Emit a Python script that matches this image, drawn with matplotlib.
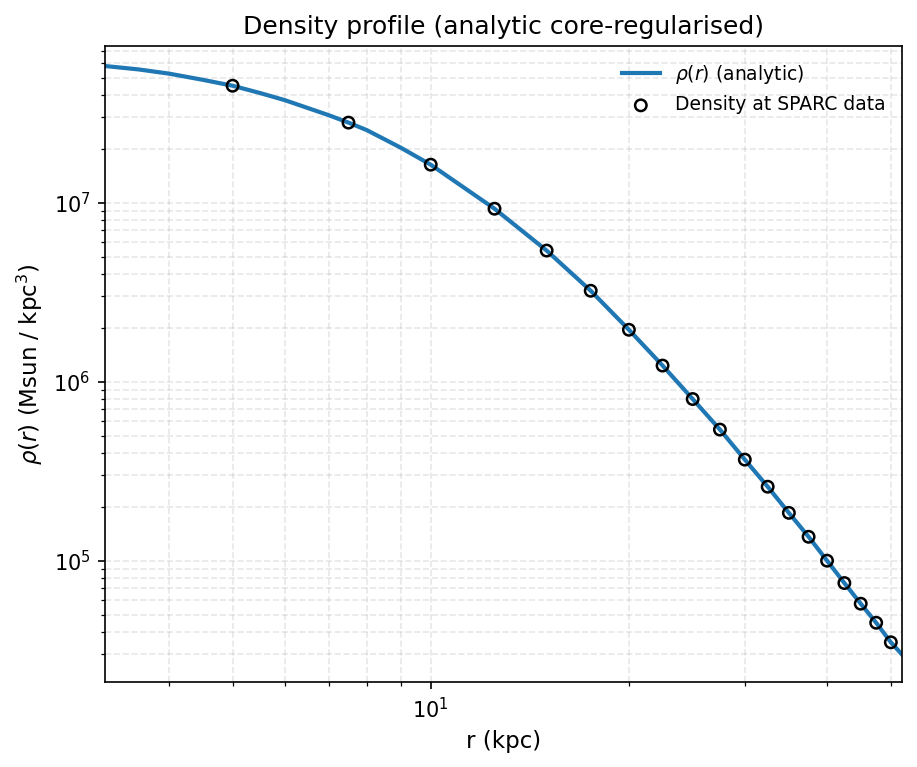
import numpy as np
import matplotlib.pyplot as plt

# SPARC radii and density values
r_data = [5, 7.5, 10, 12.5, 15, 17.5, 20, 22.5, 25, 27.5, 30,
          32.5, 35, 37.5, 40, 42.5, 45, 47.5, 50]
rho_data = [4.5e7, 2.8e7, 1.63e7, 9.25e6, 5.4e6, 3.22e6, 1.95e6, 1.23e6,
            8.0e5, 5.4e5, 3.67e5, 2.59e5, 1.85e5, 1.36e5, 1.0e5, 7.5e4,
            5.75e4, 4.5e4, 3.5e4]

# analytic curve, read at extra radii along the line
r_curve = [3.2, 3.6, 4, 4.5, 5, 5.5, 6, 7, 7.5, 8, 9, 10, 12.5, 15, 17.5,
           20, 22.5, 25, 27.5, 30, 32.5, 35, 37.5, 40, 42.5, 45, 47.5, 50, 52]
rho_curve = [5.8e7, 5.55e7, 5.26e7, 4.86e7, 4.5e7, 4.1e7, 3.74e7, 3.08e7,
             2.8e7, 2.54e7, 2.03e7, 1.63e7, 9.25e6, 5.4e6, 3.22e6, 1.95e6,
             1.23e6, 8.0e5, 5.4e5, 3.67e5, 2.59e5, 1.85e5, 1.36e5, 1.0e5,
             7.5e4, 5.75e4, 4.5e4, 3.5e4, 2.99e4]

fig, ax = plt.subplots(figsize=(917 / 150, 767 / 150), dpi=150)
fig.subplots_adjust(left=0.1145, right=0.9837, top=0.94, bottom=0.1108)

ax.loglog(r_curve, rho_curve, color='#1f77b4', lw=2, label=r'$\rho(r)$ (analytic)')
ax.scatter(r_data, rho_data, facecolors='none', edgecolors='black', s=30,
           linewidths=1.2, label='Density at SPARC data', zorder=3)

ax.set_xlim(3.2, 52)
ax.set_ylim(2.1e4, 7.5e7)
ax.grid(True, which='both', ls='--', alpha=0.3)
ax.set_xlabel('r (kpc)', fontsize=11)
ax.set_ylabel(r'$\rho(r)$ (Msun / kpc$^3$)', fontsize=11)
ax.set_title('Density profile (analytic core-regularised)')
ax.legend(frameon=False, fontsize=9, loc='upper right')

fig.savefig('out.png', dpi=150)
